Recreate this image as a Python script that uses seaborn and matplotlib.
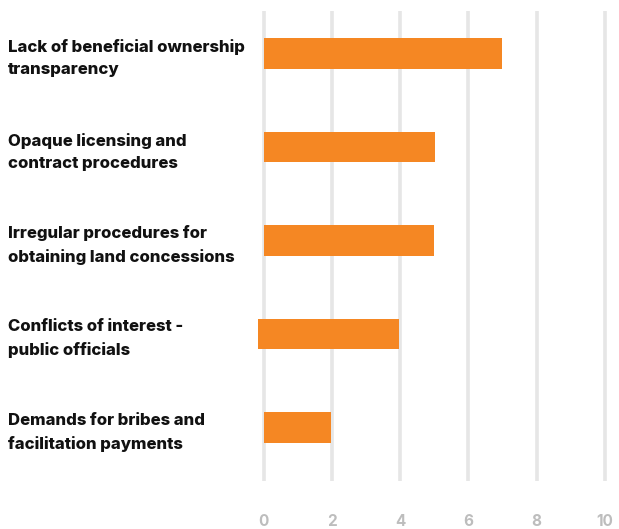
import matplotlib
matplotlib.use("Agg")
import matplotlib.pyplot as plt
import matplotlib.transforms as mtransforms
import seaborn as sns
import pandas as pd

categories = [
    "Lack of beneficial ownership\ntransparency",
    "Opaque licensing and\ncontract procedures",
    "Irregular procedures for\nobtaining land concessions",
    "Conflicts of interest -\npublic officials",
    "Demands for bribes and\nfacilitation payments",
]
values = [7, 5.03, 5, 3.96, 1.97]
left_offsets = [0, 0, 0, -0.17, 0]
xticks = [0, 2, 4, 6, 8, 10]

sns.set_theme(style="white")
plt.rcParams['font.family'] = ['Inter', 'DejaVu Sans']

W, H = 619, 529
fig = plt.figure(figsize=(W / 100, H / 100), dpi=100)
x0_px, unit = 263.7, 34.1
xmin, xmax = -0.3, 10.3
left_px = x0_px + xmin * unit
right_px = x0_px + xmax * unit
top_px, bot_px = 11, 481
ax = fig.add_axes([left_px / W, 1 - bot_px / H, (right_px - left_px) / W, (bot_px - top_px) / H])

df = pd.DataFrame({"cat": categories, "value": values, "offset": left_offsets})
color = "#F58723"
sns.barplot(data=df, y="cat", x="value", color=color, width=0.33, saturation=1,
            linewidth=0, ax=ax, zorder=3)
sns.barplot(data=df, y="cat", x="offset", color=color, width=0.33, saturation=1,
            linewidth=0, ax=ax, zorder=3)

ax.set_xlim(xmin, xmax)
ax.set_ylim(4.572, -0.455)
ax.set_xticks(xticks)
ax.set_xticklabels([str(t) for t in xticks], fontweight=700)
for t in xticks:
    ax.axvline(t, color="#E6E6E6", lw=2.6, zorder=1)
ax.set_yticks([])
ax.set_xlabel("")
ax.set_ylabel("")
for s in ax.spines.values():
    s.set_visible(False)
ax.tick_params(axis="x", length=0, pad=24, labelsize=11, labelcolor="#BDBDBD")

trans = mtransforms.blended_transform_factory(fig.transFigure, ax.transData)
for i, c in enumerate(categories):
    ax.text(8 / W, i + 0.05, c, transform=trans, ha="left", va="center",
            fontsize=12, fontweight=800, color="#111111", linespacing=1.6)

fig.savefig("out.png", dpi=100)
